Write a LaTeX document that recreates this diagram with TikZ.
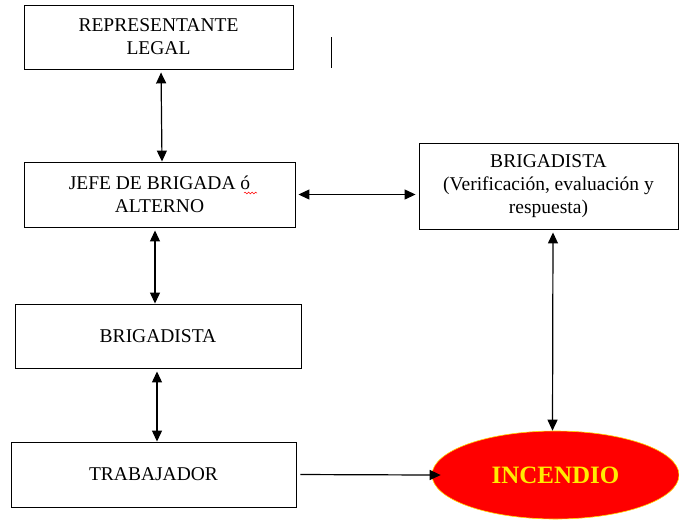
\documentclass[tikz,border=0pt]{standalone}
\usepackage{fontspec}
\setmainfont{Liberation Serif}
\usetikzlibrary{positioning,shapes,arrows.meta,decorations.pathmorphing}
\definecolor{fuego}{RGB}{255,0,0}
\definecolor{llama}{RGB}{255,236,0}
\tikzset{
  both ways/.style={{Triangle[length=11pt,width=10pt]}-{Triangle[length=11pt,width=10pt]}},
  one way/.style={-{Triangle[length=11pt,width=10pt]}}}

\begin{document}
\begin{tikzpicture}[x=1pt,y=-1pt]
        \useasboundingbox (0,0) rectangle (679,520);
        \begin{scope}[every node/.style={rectangle,draw,line width=0.9pt,align=center,inner sep=0pt,font=\rmfamily\fontsize{19.5}{23}\selectfont}]
            \node[minimum width=269,minimum height=64] (rep) at (158.5,37) {REPRESENTANTE\\LEGAL};
            \node[minimum width=271,minimum height=65] (jefe) at (159.5,194.5) {JEFE DE BRIGADA ó\\ALTERNO};
            \node[minimum width=259,minimum height=86] (ver) at (548.5,186) {BRIGADISTA\\(Verificación, evaluación y\\respuesta)};
            \node[minimum width=286,minimum height=64] (brig) at (158,336) {BRIGADISTA};
            \node[minimum width=285,minimum height=65] (trab) at (153.5,474.5) {TRABAJADOR};
        \end{scope}
        \node[ellipse,draw=llama!80!orange,line width=0.6pt,fill=fuego,minimum width=247,minimum height=88,
              text=llama,font=\rmfamily\fontsize{25}{30}\selectfont\bfseries] (fire) at (555.5,475) {INCENDIO};
        \draw[red,line width=0.5pt,decorate,decoration={snake,segment length=3.5pt,amplitude=0.9pt}] (244,193) -- (257,193);
        \draw[line width=1pt] (331,37) -- (331,68);
        \begin{scope}[every edge/.style={draw,line width=1.2pt,shorten <=3pt}]
            \path ([xshift=2.5pt]rep.south) edge[both ways] ([xshift=2.5pt]jefe.north);
            \path ([xshift=-4.5pt]jefe.south) edge[both ways] ([xshift=-3pt]brig.north);
            \path ([xshift=-1pt]brig.south) edge[both ways] ([xshift=3.5pt]trab.north);
            \path (jefe.east) edge[both ways,shorten >=3pt] (jefe.east -| ver.west);
            \path ([xshift=4.5pt]ver.south) edge[both ways] ([xshift=-3pt]fire.north);
            \path (trab.east) edge[one way,shorten <=4pt,shorten >=-9pt] (fire.west);
        \end{scope}
    \end{tikzpicture}
\end{document}
